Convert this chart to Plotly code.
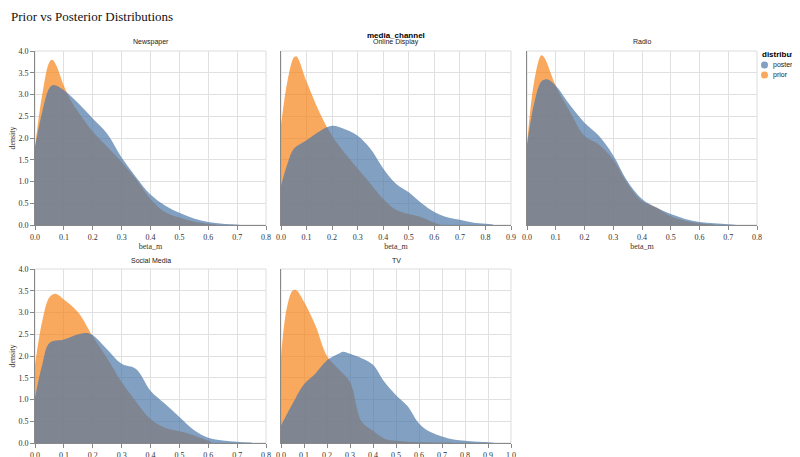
import plotly.graph_objects as go

channels = ["Newspaper", "Online Display", "Radio", "Social Media", "TV"]
x_max = [0.8, 0.9, 0.8, 0.8, 1.0]
legend_labels = ["posterior", "prior"]

prior_x = {
    "Newspaper": [0, 0.025, 0.05, 0.06, 0.075, 0.1, 0.125, 0.15, 0.2, 0.25, 0.3, 0.35, 0.4, 0.45, 0.5, 0.55, 0.6, 0.625],
    "Online Display": [0, 0.025, 0.05, 0.06, 0.1, 0.15, 0.2, 0.25, 0.3, 0.35, 0.4, 0.45, 0.5, 0.55, 0.6, 0.62],
    "Radio": [0, 0.025, 0.05, 0.06, 0.1, 0.15, 0.2, 0.25, 0.3, 0.35, 0.4, 0.45, 0.5, 0.55, 0.6, 0.65],
    "Social Media": [0, 0.025, 0.05, 0.07, 0.1, 0.15, 0.2, 0.25, 0.3, 0.35, 0.4, 0.45, 0.5, 0.55, 0.6, 0.61],
    "TV": [0, 0.025, 0.05, 0.065, 0.1, 0.15, 0.2, 0.25, 0.3, 0.35, 0.4, 0.45, 0.5, 0.55, 0.6, 0.74],
}
prior_y = {
    "Newspaper": [1.8, 3.0, 3.75, 3.8, 3.65, 3.2, 2.85, 2.6, 2.15, 1.8, 1.45, 1.05, 0.6, 0.3, 0.17, 0.08, 0.03, 0.01],
    "Online Display": [2.3, 3.3, 3.85, 3.88, 3.3, 2.6, 2.05, 1.65, 1.3, 0.95, 0.6, 0.35, 0.25, 0.18, 0.05, 0.01],
    "Radio": [1.85, 3.3, 3.9, 3.85, 3.2, 2.6, 2.05, 1.85, 1.5, 0.95, 0.55, 0.4, 0.2, 0.1, 0.04, 0.01],
    "Social Media": [1.8, 2.8, 3.35, 3.43, 3.3, 3.0, 2.45, 1.95, 1.4, 0.95, 0.55, 0.35, 0.27, 0.18, 0.05, 0.02],
    "TV": [2.0, 3.1, 3.5, 3.52, 3.25, 2.7, 2.0, 1.7, 1.4, 0.5, 0.28, 0.1, 0.05, 0.03, 0.02, 0.01],
}
post_x = {
    "Newspaper": [0, 0.025, 0.05, 0.065, 0.1, 0.15, 0.2, 0.25, 0.3, 0.35, 0.4, 0.45, 0.5, 0.55, 0.6, 0.65, 0.7, 0.71],
    "Online Display": [0, 0.025, 0.05, 0.1, 0.15, 0.2, 0.25, 0.3, 0.35, 0.4, 0.45, 0.5, 0.55, 0.6, 0.65, 0.7, 0.75, 0.8, 0.83],
    "Radio": [0, 0.025, 0.05, 0.07, 0.1, 0.15, 0.2, 0.25, 0.3, 0.35, 0.4, 0.45, 0.5, 0.55, 0.6, 0.65, 0.7, 0.73],
    "Social Media": [0, 0.025, 0.05, 0.1, 0.15, 0.18, 0.2, 0.25, 0.3, 0.35, 0.4, 0.45, 0.5, 0.55, 0.6, 0.65, 0.7, 0.75],
    "TV": [0, 0.05, 0.1, 0.15, 0.2, 0.25, 0.27, 0.3, 0.35, 0.4, 0.45, 0.5, 0.55, 0.6, 0.65, 0.7, 0.75, 0.8, 0.85, 0.9, 0.93],
}
post_y = {
    "Newspaper": [1.8, 2.6, 3.15, 3.22, 3.1, 2.8, 2.45, 2.1, 1.55, 1.1, 0.7, 0.45, 0.28, 0.15, 0.07, 0.03, 0.01, 0.0],
    "Online Display": [0.9, 1.4, 1.75, 1.95, 2.15, 2.28, 2.2, 2.05, 1.75, 1.3, 0.95, 0.75, 0.5, 0.3, 0.18, 0.12, 0.06, 0.03, 0.01],
    "Radio": [1.85, 2.8, 3.3, 3.35, 3.2, 2.75, 2.35, 2.05, 1.6, 1.0, 0.6, 0.4, 0.25, 0.14, 0.07, 0.04, 0.02, 0.0],
    "Social Media": [1.05, 1.8, 2.3, 2.38, 2.5, 2.53, 2.48, 2.15, 1.82, 1.7, 1.2, 0.9, 0.6, 0.3, 0.12, 0.06, 0.03, 0.01],
    "TV": [0.4, 0.9, 1.35, 1.6, 1.9, 2.05, 2.1, 2.05, 1.95, 1.8, 1.4, 1.1, 0.85, 0.45, 0.25, 0.15, 0.08, 0.05, 0.03, 0.02, 0.0],
}

W, H = 800, 457
cols_px = [(27, 258), (273, 503), (519, 749)]
rows_px = [(43, 217), (261, 435)]
BLUE = "#4c78a8"
ORANGE = "#f58518"
SERIF = "Liberation Serif"
SANS = "Liberation Sans"

fig = go.Figure()
layout = {}
annotations = []
shapes = []
for i, ch in enumerate(channels):
    r, c = divmod(i, 3)
    n = i + 1
    xa = "xaxis" if n == 1 else f"xaxis{n}"
    ya = "yaxis" if n == 1 else f"yaxis{n}"
    xr = "x" if n == 1 else f"x{n}"
    yr = "y" if n == 1 else f"y{n}"
    x0, x1 = cols_px[c]
    y0, y1 = rows_px[r]
    layout[xa] = dict(domain=[x0 / W, x1 / W], anchor=yr, range=[0, x_max[i]], dtick=0.1, tickformat=".1f",
                      showgrid=True, gridcolor="#e0e0e0", showline=True, linecolor="#888", mirror=False,
                      ticks="outside", ticklen=4, tickcolor="#888", zeroline=False, automargin=False,
                      tickfont=dict(family=SERIF, size=8, color="#333"),
                      title=dict(text="beta_m", font=dict(family=SERIF, size=8, color="#333"), standoff=2))
    layout[ya] = dict(domain=[1 - y1 / H, 1 - y0 / H], anchor=xr, range=[0, 4.0], dtick=0.5, tickformat=".1f",
                      showgrid=True, gridcolor="#e0e0e0", showline=True, linecolor="#888", zeroline=False,
                      ticks="outside" if c == 0 else "", ticklen=4, tickcolor="#888", automargin=False,
                      showticklabels=(c == 0),
                      tickfont=dict(family=SERIF, size=8, color="#333"),
                      title=dict(text="density" if c == 0 else "", font=dict(family=SERIF, size=8, color="#333"), standoff=2))
    shapes.append(dict(type="rect", xref=f"{xr} domain", yref=f"{yr} domain", x0=0, x1=1, y0=0, y1=1,
                       line=dict(color="#dddddd", width=1), layer="below"))
    fig.add_trace(go.Scatter(x=prior_x[ch], y=prior_y[ch], xaxis=xr, yaxis=yr, mode="lines",
                             fill="tozeroy", fillcolor="rgba(245,133,24,0.7)", line=dict(width=0, shape="spline"),
                             showlegend=False, hoverinfo="skip"))
    fig.add_trace(go.Scatter(x=post_x[ch], y=post_y[ch], xaxis=xr, yaxis=yr, mode="lines",
                             fill="tozeroy", fillcolor="rgba(76,120,168,0.7)", line=dict(width=0, shape="spline"),
                             showlegend=False, hoverinfo="skip"))
    annotations.append(dict(text=ch, x=(x0 + x1) / 2 / W, y=1 - (y0 - 9) / H, xref="paper", yref="paper",
                            showarrow=False, font=dict(family=SANS, size=7, color="#222"), xanchor="center", yanchor="middle"))

# manual legend
for k, (name, col) in enumerate(zip(legend_labels, [BLUE, ORANGE])):
    cy = 57 + k * 10
    shapes.append(dict(type="circle", xref="paper", yref="paper", x0=753 / W, x1=760 / W,
                       y0=1 - (cy + 3.5) / H, y1=1 - (cy - 3.5) / H, fillcolor=col, opacity=0.7, line=dict(width=0)))
    annotations.append(dict(text=name, x=763 / W, y=1 - cy / H, xref="paper", yref="paper", showarrow=False,
                            xanchor="left", yanchor="middle", font=dict(family=SANS, size=7, color="#222")))

annotations.append(dict(text="<b>media_channel</b>", x=388 / W, y=1 - 21 / H, xref="paper", yref="paper",
                        showarrow=False, font=dict(family=SANS, size=8, color="#000")))
annotations.append(dict(text="<b>distribution</b>", x=752 / W, y=1 - 46 / H, xref="paper", yref="paper",
                        showarrow=False, xanchor="left", yanchor="middle", font=dict(family=SANS, size=8, color="#000")))

fig.update_layout(**layout)
fig.update_layout(
    width=W, height=H, margin=dict(l=0, r=0, t=0, b=0, autoexpand=False),
    paper_bgcolor="white", plot_bgcolor="white", showlegend=False,
    title=dict(text="Prior vs Posterior Distributions", x=3 / W, y=1 - 8 / H, xanchor="left", yanchor="middle",
               font=dict(family=SERIF, size=13, color="#111")),
    annotations=annotations, shapes=shapes,
)
fig.write_html("out.html")
